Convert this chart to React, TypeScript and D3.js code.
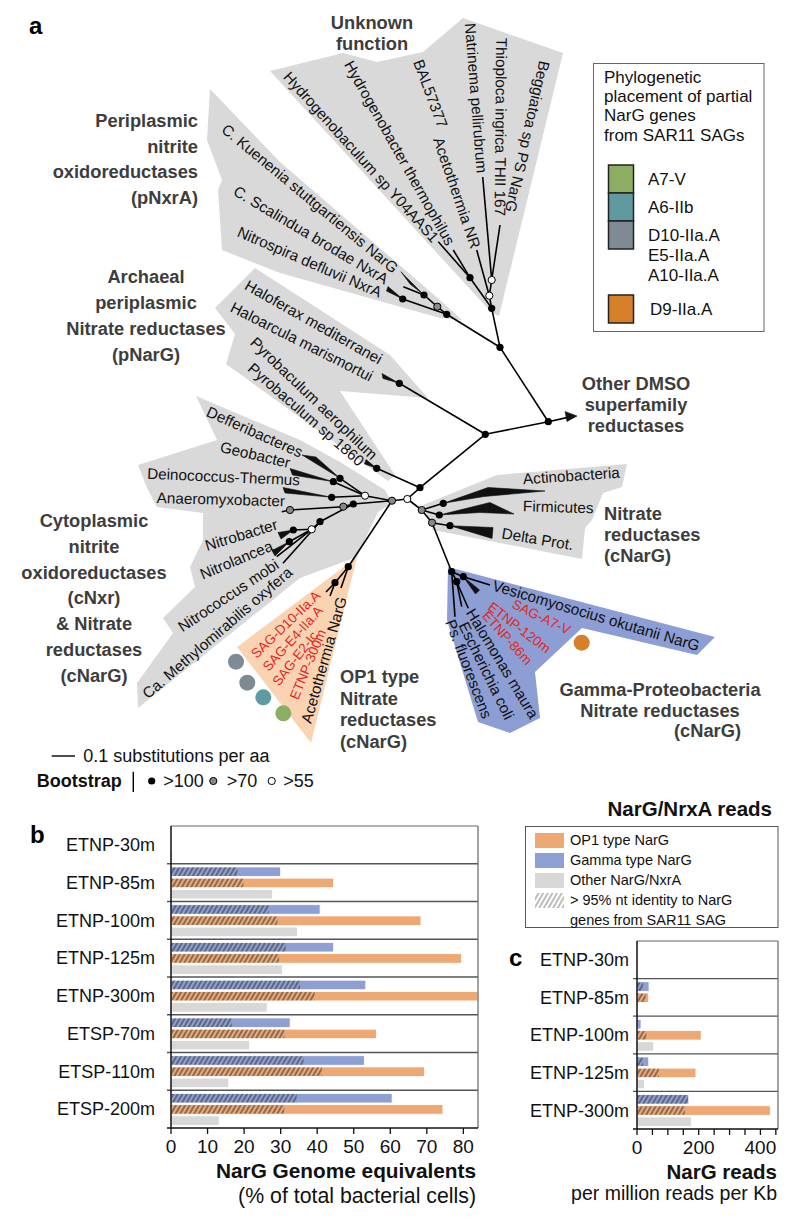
import React from 'react';
import * as d3 from 'd3';

const FONT = '"Liberation Sans", Arial, Helvetica, sans-serif';
const C_ORANGE = '#EDA874';
const C_BLUE = '#8E9FD4';
const C_GRAYBAR = '#D8D8D8';
const C_POLY = '#D9D9D9';
const C_PEACH = '#FAD3B2';
const C_GAMMA = '#8C9ED3';
const C_RED = '#E3261F';
const C_LABEL = '#3D3D3D';

// ---------------- panel b data ----------------
const samplesB = ['ETNP-30m', 'ETNP-85m', 'ETNP-100m', 'ETNP-125m', 'ETNP-300m', 'ETSP-70m', 'ETSP-110m', 'ETSP-200m'];
const gammaB = [0, 30, 40.8, 44.5, 53.3, 32.6, 52.9, 60.5];
const gammaHatchB = [0, 18.2, 26.7, 31.4, 35.3, 16.6, 36.3, 34.4];
const op1B = [0, 44.5, 68.4, 79.5, 84, 56.2, 69.4, 74.4];
const op1HatchB = [0, 19.8, 29.1, 29.6, 39.3, 31, 41.3, 31];
const otherB = [0.4, 27.8, 34.6, 30.5, 26.3, 21.5, 15.8, 13.2];
const ticksB = [0, 10, 20, 30, 40, 50, 60, 70, 80];

// ---------------- panel c data ----------------
const samplesC = ['ETNP-30m', 'ETNP-85m', 'ETNP-100m', 'ETNP-125m', 'ETNP-300m'];
const gammaC = [0, 39, 13, 38, 168];
const gammaHatchC = [0, 20, 0, 19, 165];
const op1C = [0, 38, 208, 191, 432];
const op1HatchC = [0, 28, 30, 71, 155];
const otherC = [0, 0, 54, 24, 176];
const ticksC = [0, 50, 100, 150, 200, 250, 300, 350, 400, 450];
const tickLabelsC = [0, 200, 400];

const seriesKeys = ['gamma', 'op1', 'other'];

// ---------------- panel a (tree illustration) ----------------
const cladePolys = [
  { fill: C_POLY, pts: [[270, 71], [343, 53], [377, 62], [423, 52], [463, 18], [563, 53], [499, 316], [492, 313]] },
  { fill: C_POLY, pts: [[210, 89], [280, 162], [440, 300], [462, 320], [440, 318], [280, 273], [222, 250], [218, 190], [222, 180], [207, 140]] },
  { fill: C_POLY, pts: [[255, 268], [390, 355], [428, 398], [340, 391], [395, 475], [388, 481], [226, 364], [235, 334], [215, 308]] },
  { fill: C_POLY, pts: [[196, 396], [300, 440], [340, 462], [385, 490], [392, 503], [378, 512], [357, 557], [300, 578], [138, 708], [137, 683], [173, 633], [163, 618], [195, 587], [190, 567], [203, 540], [203, 513], [157, 507], [147, 488], [138, 465], [217, 440]] },
  { fill: C_POLY, pts: [[423, 505], [497, 475], [627, 464], [622, 487], [603, 493], [592, 520], [585, 528], [582, 559], [433, 530]] },
  { fill: C_PEACH, pts: [[357, 557], [237, 647], [311, 743]] },
  { fill: C_GAMMA, pts: [[448, 567], [715, 637], [697, 655], [582, 628], [535, 672], [540, 718], [510, 733], [478, 722], [447, 620]] },
];

const branches = [
  [[407.3, 499], [392, 500.7]], [[407.3, 499], [420, 487.7]], [[407.3, 499], [421.7, 510]],
  [[420, 487.7], [485.3, 434.3]], [[420, 487.7], [376.7, 468.3]],
  [[485.3, 434.3], [548.3, 421.7]], [[485.3, 434.3], [399.3, 383.3]],
  [[548.3, 421.7], [500, 347.3]], [[548.3, 421.7], [568, 417.4]],
  [[500, 347.3], [491.7, 308.3]], [[500, 347.3], [446.7, 314.3]],
  [[491.7, 308.3], [470, 277.7]], [[491.7, 308.3], [489.3, 295.7]],
  [[470, 277.7], [438.3, 241.7]], [[470, 277.7], [453.3, 250]],
  [[489.3, 295.7], [476.7, 250]], [[489.3, 295.7], [491.7, 280]],
  [[491.7, 280], [482.7, 177]], [[491.7, 280], [500, 225]],
  [[446.7, 314.3], [437.3, 306.7]], [[437.3, 306.7], [424, 295]], [[446.7, 314.3], [402.7, 299]],
  [[424, 295], [403.3, 286.7]],
  [[392, 500.7], [365, 495.7]], [[392, 500.7], [353.3, 504]], [[392, 500.7], [348.3, 566.7]],
  [[365, 495.7], [340, 478.3]], [[365, 495.7], [333.3, 481.7]], [[365, 495.7], [331.7, 497.3]],
  [[353.3, 504], [343.3, 506.7]], [[343.3, 506.7], [290, 510]], [[290, 510], [281.7, 511.7]],
  [[353.3, 504], [320, 521.7]], [[320, 521.7], [311.7, 529.3]],
  [[311.7, 529.3], [293.3, 530]], [[311.7, 529.3], [289.3, 541.7]], [[311.7, 529.3], [276.7, 556.7]],
  [[320, 521.7], [283, 563.3]],
  [[348.3, 566.7], [335, 582.7]], [[348.3, 566.7], [341, 588]], [[335, 582.7], [326, 592]], [[335, 582.7], [330, 596]],
  [[421.7, 510], [443.3, 503.3]], [[421.7, 510], [439.3, 515]], [[421.7, 510], [432, 522.7]],
  [[432, 522.7], [450, 525.7]], [[432, 522.7], [451.7, 571.7]],
  [[451.7, 571.7], [455, 616.7]], [[451.7, 571.7], [456.7, 581.7]],
  [[456.7, 581.7], [461.7, 606.7]], [[456.7, 581.7], [468.3, 608.3]],
  [[451.7, 571.7], [463.3, 576.7]], [[463.3, 576.7], [490, 585]],
];

const wedges = [
  [[424, 295], [405, 276], [401, 271.7], [410, 284]],
  [[402.7, 299], [388, 286.5], [386.5, 291]],
  [[399.3, 383.3], [382, 373.5], [383, 378.5]],
  [[376.7, 468.3], [366, 459.5], [364.5, 464]],
  [[340, 478.3], [302, 455], [316, 457]],
  [[333.3, 481.7], [290, 468.5], [292.5, 475]],
  [[331.7, 497.3], [283, 487.5], [285, 493]],
  [[293.3, 530], [278, 532.5], [281, 539]],
  [[289.3, 541.7], [272, 550.5], [275, 556]],
  [[443.3, 503.3], [488, 487.5], [545, 491], [484, 496.5]],
  [[439.3, 515], [490, 502.5], [514, 514], [480, 512.5]],
  [[450, 525.7], [493, 527.5], [492, 538.5]],
  [[463.3, 576.7], [475.5, 594], [479.5, 590]],
  [[577, 416], [565, 411.5], [567, 421.5]],
];

const treeNodes = [
  [407.3, 499, 'w'], [392, 500.7, 'g'], [420, 487.7, 'b'], [421.7, 510, 'g'], [485.3, 434.3, 'b'],
  [548.3, 421.7, 'b'], [500, 347.3, 'b'], [491.7, 308.3, 'b'], [489.3, 295.7, 'w'], [491.7, 280, 'w'],
  [470, 277.7, 'b'], [446.7, 314.3, 'b'], [437.3, 306.7, 'g'], [424, 295, 'b'], [402.7, 299, 'b'],
  [399.3, 383.3, 'b'], [376.7, 468.3, 'b'], [365, 495.7, 'w'], [353.3, 504, 'b'], [343.3, 506.7, 'g'],
  [340, 478.3, 'b'], [333.3, 481.7, 'b'], [331.7, 497.3, 'b'], [290, 510, 'g'], [320, 521.7, 'b'],
  [311.7, 529.3, 'w'], [293.3, 530, 'b'], [289.3, 541.7, 'b'], [348.3, 566.7, 'b'], [335, 582.7, 'b'],
  [432, 522.7, 'g'], [443.3, 503.3, 'b'], [439.3, 515, 'b'], [450, 525.7, 'b'], [451.7, 571.7, 'b'],
  [456.7, 581.7, 'b'], [463.3, 576.7, 'b'],
];

// [text, x, y, angle, anchor, colour, size]
const leafLabels = [
  ['Hydrogenobaculum sp Y04AAS1', 436, 240, 48, 'end', '#111', 15.3],
  ['Hydrogenobacter thermophilus', 451, 244, 60.6, 'end', '#111', 15.3],
  ['BAL57377', 443, 127, 69.6, 'end', '#111', 15.3],
  ['Acetothermia NR', 476, 248, 71, 'end', '#111', 15.3],
  ['Natrinema pellirubrum', 482, 173, 85.5, 'end', '#111', 15.3],
  ['Thioploca ingrica THII 167', 500, 216, 90.5, 'end', '#111', 15.3],
  ['Beggiatoa sp PS NarG', 510, 212, 103, 'end', '#111', 15.3],
  ['C. Kuenenia stuttgartiensis NarG', 396, 270, 39.7, 'end', '#111', 15.3],
  ['C. Scalindua brodae NxrA', 387, 280, 30.7, 'end', '#111', 15.3],
  ['Nitrospira defluvii NxrA', 381, 293, 23.5, 'end', '#111', 15.3],
  ['Haloferax mediterranei', 381, 360, 29.4, 'end', '#111', 15.3],
  ['Haloarcula marismortui', 372, 377, 26.8, 'end', '#111', 15.3],
  ['Pyrobaculum aerophilum', 375, 457, 43.8, 'end', '#111', 15.3],
  ['Pyrobaculum sp 1860', 362, 463, 41, 'end', '#111', 15.3],
  ['Defferibacteres', 302, 453, 24, 'end', '#111', 15.3],
  ['Geobacter', 290, 463, 13.4, 'end', '#111', 15.3],
  ['Deinococcus-Thermus', 300, 480, 2.5, 'end', '#111', 15.3],
  ['Anaeromyxobacter', 285, 501, 1.5, 'end', '#111', 15.3],
  ['Nitrobacter', 277, 524, -17, 'end', '#111', 15.3],
  ['Nitrolancea', 272, 545, -22.7, 'end', '#111', 15.3],
  ['Nitrococcus mobi', 277, 563, -33.7, 'end', '#111', 15.3],
  ['Ca. Methylomirabilis oxyfera', 290, 570, -40.8, 'end', '#111', 15.3],
  ['SAG-D10-IIa.A', 318, 593, -44, 'end', C_RED, 13.5],
  ['SAG-E4-IIa.A', 320, 608, -48, 'end', C_RED, 13.5],
  ['SAG-E2-Ic', 315, 633, -52, 'end', C_RED, 13.5],
  ['ETNP-300m', 322, 630, -67.5, 'end', C_RED, 13.5],
  ['Acetothermia NarG', 342, 597, -74, 'end', '#111', 15.3],
  ['Actinobacteria', 523, 479, -4, 'start', '#111', 15.3],
  ['Firmicutes', 523, 506, 1.5, 'start', '#111', 15.3],
  ['Delta Prot.', 502, 533, 9.5, 'start', '#111', 15.3],
  ['Vesicomyosocius okutanii NarG', 493, 585, 16.5, 'start', '#111', 15.3],
  ['SAG-A7-V', 513, 603, 26, 'start', C_RED, 13.5],
  ['ETNP-120m', 490, 605, 37.4, 'start', C_RED, 13.5],
  ['ETNP-86m', 485, 613, 48, 'start', C_RED, 13.5],
  ['Halomonas maura', 470, 610, 58.8, 'start', '#111', 15.3],
  ['Escherichia coli', 463, 623, 63.8, 'start', '#111', 15.3],
  ['Ps. fluorescens', 450, 620, 69, 'start', '#111', 15.3],
];

const groupLabels = [
  { lines: ['Unknown', 'function'], x: 372, y: 29, anchor: 'middle', lh: 21 },
  { lines: ['Periplasmic', 'nitrite', 'oxidoreductases', '(pNxrA)'], x: 198, y: 127, anchor: 'end', lh: 25.5 },
  { lines: ['Archaeal', 'periplasmic', 'Nitrate reductases', '(pNarG)'], x: 146, y: 283, anchor: 'middle', lh: 26 },
  { lines: ['Other DMSO', 'superfamily', 'reductases'], x: 636, y: 390, anchor: 'middle', lh: 21 },
  { lines: ['Nitrate', 'reductases', '(cNarG)'], x: 604, y: 520, anchor: 'start', lh: 21 },
  { lines: ['Cytoplasmic', 'nitrite', 'oxidoreductases', '(cNxr)', '& Nitrate', 'reductases', '(cNarG)'], x: 94, y: 527, anchor: 'middle', lh: 25.8 },
  { lines: ['OP1 type', 'Nitrate', 'reductases', '(cNarG)'], x: 340, y: 683, anchor: 'start', lh: 21.7 },
  { lines: ['Gamma-Proteobacteria', 'Nitrate reductases'], x: 660, y: 696, anchor: 'middle', lh: 20.5 },
  { lines: ['(cNarG)'], x: 741, y: 737, anchor: 'end', lh: 20 },
];

const sagDots = [
  [236, 661.7, '#7E8B94'], [247.3, 682.7, '#7E8B94'], [263.3, 697.3, '#5E9AA0'], [283.3, 713.3, '#8CAE62'], [581.7, 642.7, '#D6802A'],
];

const sagLegend = [
  { color: '#8CAE62', labels: ['A7-V'] },
  { color: '#5E9AA0', labels: ['A6-IIb'] },
  { color: '#7E8B94', labels: ['D10-IIa.A', 'E5-IIa.A', 'A10-IIa.A'] },
  { color: '#D6802A', labels: ['D9-IIa.A'] },
];
const sagLegendTitle = ['Phylogenetic', 'placement of partial', 'NarG genes', 'from SAR11 SAGs'];

const readsLegend = [
  { fill: C_ORANGE, lines: ['OP1 type NarG'] },
  { fill: C_BLUE, lines: ['Gamma type NarG'] },
  { fill: C_GRAYBAR, lines: ['Other NarG/NxrA'] },
  { fill: 'url(#hatchLight)', lines: ['> 95% nt identity to NarG', 'genes from SAR11 SAG'] },
];

const bootstrapKeys = [
  { fill: '#000', label: '>100' },
  { fill: '#888', label: '>70' },
  { fill: '#fff', label: '>55' },
];

function BarPanel({ samples, gamma, gammaH, op1, op1H, other, x, y, ticks, tickLabels, labelGap }) {
  const sub = d3.scaleBand().domain(seriesKeys).range([3.2, y.step() - 2.6]).paddingInner(0.15);
  const bw = sub.bandwidth();
  const x0 = x(0);
  const [xl, xr] = x.range();
  const [yt, yb] = y.range();
  const vals = { gamma, op1, other };
  const hatch = { gamma: gammaH, op1: op1H, other: null };
  const colors = { gamma: C_BLUE, op1: C_ORANGE, other: C_GRAYBAR };
  return (
    <g>
      {samples.map((s, i) => (
        <g key={s}>
          {seriesKeys.map((k) => {
            const v = vals[k][i];
            if (!v) return null;
            const yy = y(s) + sub(k);
            const h = hatch[k] ? hatch[k][i] : 0;
            return (
              <g key={k}>
                <rect x={x0} y={yy} width={x(v) - x0} height={bw} fill={colors[k]} stroke="#fff" strokeWidth={0.8} />
                {h > 0 && <rect x={x0 + 0.5} y={yy + 0.5} width={x(h) - x0 - 0.5} height={bw - 1} fill="url(#hatchDark)" />}
              </g>
            );
          })}
        </g>
      ))}
      {samples.slice(1).map((s) => (
        <line key={s} x1={xl - 4} x2={xr} y1={y(s)} y2={y(s)} stroke="#555" strokeWidth={1.3} />
      ))}
      <line x1={xl} x2={xr} y1={yt} y2={yt} stroke="#666" strokeWidth={1.2} />
      <line x1={xr} x2={xr} y1={yt} y2={yb} stroke="#666" strokeWidth={1.2} />
      <line x1={xl} x2={xl} y1={yt} y2={yb} stroke="#111" strokeWidth={1.5} />
      <line x1={xl - 4} x2={xr} y1={yb} y2={yb} stroke="#111" strokeWidth={1.5} />
      {ticks.map((t) => (
        <line key={t} x1={x(t)} x2={x(t)} y1={yb} y2={yb + 6} stroke="#111" strokeWidth={1.3} />
      ))}
      {tickLabels.map((t) => (
        <text key={t} x={x(t)} y={yb + 25} textAnchor="middle" fontSize={19} fill="#111">{t}</text>
      ))}
      {samples.map((s) => (
        <text key={s} x={xl - labelGap} y={y(s) + y.step() / 2} dy="0.35em" textAnchor="end" fontSize={18} fill="#111">{s}</text>
      ))}
    </g>
  );
}

export default function App() {
  const xB = d3.scaleLinear().domain([0, 84]).range([171, 478]);
  const yB = d3.scaleBand().domain(samplesB).range([826, 1128]);
  const xC = d3.scaleLinear().domain([0, 457]).range([637, 778]);
  const yC = d3.scaleBand().domain(samplesC).range([941, 1129]);
  const poly = (pts) => 'M' + pts.map((p) => p.join(',')).join('L') + 'Z';

  return (
    <svg width={800} height={1222} style={{ position: 'absolute', left: 0, top: 0, fontFamily: FONT }} xmlns="http://www.w3.org/2000/svg">
      <defs>
        <pattern id="hatchDark" patternUnits="userSpaceOnUse" width={4} height={10} patternTransform="rotate(30)">
          <line x1={1} y1={0} x2={1} y2={10} stroke="#3a3a3a" strokeWidth={1.1} />
        </pattern>
        <pattern id="hatchLight" patternUnits="userSpaceOnUse" width={4} height={10} patternTransform="rotate(30)">
          <rect x={0} y={0} width={4} height={10} fill="#fff" />
          <line x1={1} y1={0} x2={1} y2={10} stroke="#888" strokeWidth={1.1} />
        </pattern>
      </defs>
      <rect x={0} y={0} width={800} height={1222} fill="#fff" />

      {/* ---------- panel a ---------- */}
      <text x={29} y={34} fontSize={24} fontWeight="bold" fill="#000">a</text>
      {cladePolys.map((c, i) => (
        <path key={i} d={poly(c.pts)} fill={c.fill} />
      ))}
      {branches.map((b, i) => (
        <path key={i} d={d3.line()(b)} stroke="#000" strokeWidth={1.6} fill="none" />
      ))}
      {wedges.map((w, i) => (
        <path key={i} d={poly(w)} fill="#111" stroke="#111" strokeWidth={0.6} />
      ))}
      {treeNodes.map((n, i) => (
        <circle key={i} cx={n[0]} cy={n[1]} r={3.6} fill={n[2] === 'b' ? '#000' : n[2] === 'g' ? '#888' : '#fff'} stroke="#000" strokeWidth={n[2] === 'b' ? 0 : 1} />
      ))}
      {leafLabels.map((l, i) => (
        <text key={i} transform={`translate(${l[1]},${l[2]}) rotate(${l[3]})`} textAnchor={l[4]} dy="0.35em" fontSize={l[6]} fill={l[5]}>{l[0]}</text>
      ))}
      {groupLabels.map((g, i) => (
        <text key={i} x={g.x} y={g.y} textAnchor={g.anchor} fontSize={18.3} fontWeight="bold" fill={C_LABEL}>
          {g.lines.map((ln, j) => (
            <tspan key={j} x={g.x} y={g.y + j * g.lh}>{ln}</tspan>
          ))}
        </text>
      ))}
      {sagDots.map((d, i) => (
        <circle key={i} cx={d[0]} cy={d[1]} r={8} fill={d[2]} />
      ))}

      {/* SAG legend */}
      <rect x={593.5} y={63.5} width={170.5} height={268} fill="#fff" stroke="#666" strokeWidth={1} />
      {sagLegendTitle.map((t, i) => (
        <text key={i} x={604} y={82.5 + i * 19.4} fontSize={17} fill="#111">{t}</text>
      ))}
      {(() => {
        const out = [];
        let yy = 165;
        sagLegend.forEach((s, i) => {
          const top = i === 3 ? 295 : yy;
          out.push(<rect key={'r' + i} x={608.5} y={top} width={25} height={28} fill={s.color} stroke="#222" strokeWidth={1.5} />);
          s.labels.forEach((lb, j) => {
            out.push(<text key={'t' + i + j} x={i === 3 ? 650 : 648} y={top + 20 + j * 20} fontSize={17} fill="#111">{lb}</text>);
          });
          yy = top + 28;
        });
        return out;
      })()}

      {/* scale bar & bootstrap key */}
      <line x1={51.7} x2={75} y1={756} y2={756} stroke="#000" strokeWidth={1.4} />
      <text x={83.3} y={762} fontSize={18} fill="#111">0.1 substitutions per aa</text>
      <text x={36.7} y={787} fontSize={18} fontWeight="bold" fill="#111">Bootstrap</text>
      <line x1={133.3} x2={133.3} y1={771.7} y2={792} stroke="#000" strokeWidth={1.4} />
      {bootstrapKeys.map((k, i) => {
        const cx = [151.7, 213.3, 271.7][i];
        const tx = [163.3, 226.7, 283.3][i];
        return (
          <g key={i}>
            <circle cx={cx} cy={781} r={3.6} fill={k.fill} stroke="#000" strokeWidth={i === 0 ? 0 : 1} />
            <text x={tx} y={787} fontSize={18} fill="#111">{k.label}</text>
          </g>
        );
      })}

      {/* ---------- panel b ---------- */}
      <text x={30} y={843} fontSize={24} fontWeight="bold" fill="#000">b</text>
      <BarPanel samples={samplesB} gamma={gammaB} gammaH={gammaHatchB} op1={op1B} op1H={op1HatchB} other={otherB} x={xB} y={yB} ticks={ticksB} tickLabels={ticksB} labelGap={16} />
      <text x={476} y={1178} textAnchor="end" fontSize={20.8} fontWeight="bold" fill="#111">NarG Genome equivalents</text>
      <text x={476} y={1203} textAnchor="end" fontSize={21.3} fill="#111">(% of total bacterial cells)</text>

      {/* reads legend */}
      <text x={772} y={816} textAnchor="end" fontSize={20.5} fontWeight="bold" fill="#111">NarG/NrxA reads</text>
      <rect x={525.5} y={826.5} width={252.5} height={101} fill="#fff" stroke="#555" strokeWidth={1} />
      {readsLegend.map((it, i) => (
        <g key={i}>
          <rect x={535} y={833 + i * 20} width={29} height={15} fill={it.fill} />
          {it.lines.map((ln, j) => (
            <text key={j} x={570} y={844.5 + i * 20 + j * 20} fontSize={14.5} fill="#111">{ln}</text>
          ))}
        </g>
      ))}

      {/* ---------- panel c ---------- */}
      <text x={509} y={966} fontSize={24} fontWeight="bold" fill="#000">c</text>
      <BarPanel samples={samplesC} gamma={gammaC} gammaH={gammaHatchC} op1={op1C} op1H={op1HatchC} other={otherC} x={xC} y={yC} ticks={ticksC} tickLabels={tickLabelsC} labelGap={8} />
      <text x={777} y={1179} textAnchor="end" fontSize={20.5} fontWeight="bold" fill="#111">NarG reads</text>
      <text x={777} y={1200} textAnchor="end" fontSize={19.5} fill="#111">per million reads per Kb</text>
    </svg>
  );
}
